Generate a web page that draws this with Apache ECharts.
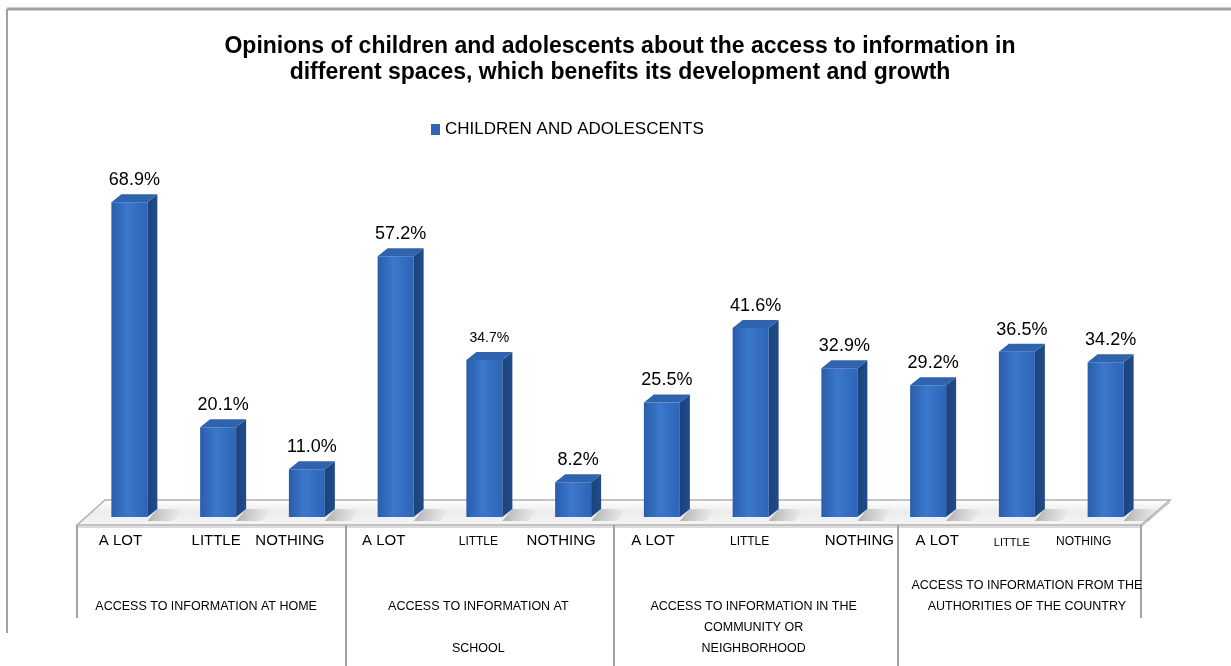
<!DOCTYPE html>
<html>
<head>
<meta charset="utf-8">
<script src="https://cdn.jsdelivr.net/npm/echarts@6/dist/echarts.min.js"></script>
<style>
  html, body { margin: 0; padding: 0; background: #ffffff; }
  #chart { width: 1231px; height: 666px; }
</style>
</head>
<body>
<div id="chart"></div>
<script>
// ---- chart data ----
const titleText = 'Opinions of children and adolescents about the access to information in\ndifferent spaces, which benefits its development and growth';
const seriesName = 'CHILDREN AND ADOLESCENTS';
const responses = ['A LOT', 'LITTLE', 'NOTHING', 'A LOT', 'LITTLE', 'NOTHING',
                   'A LOT', 'LITTLE', 'NOTHING', 'A LOT', 'LITTLE', 'NOTHING'];
const spaces = [
  'ACCESS TO INFORMATION AT HOME',
  'ACCESS TO INFORMATION AT\n\nSCHOOL',
  'ACCESS TO INFORMATION IN THE\nCOMMUNITY OR\nNEIGHBORHOOD',
  'ACCESS TO INFORMATION FROM THE\nAUTHORITIES OF THE COUNTRY'
];
const values = [68.9, 20.1, 11.0, 57.2, 34.7, 8.2, 25.5, 41.6, 32.9, 29.2, 36.5, 34.2];

// ---- look & layout ----
const FONT = "'Liberation Sans', Arial, sans-serif";
const GRID = { left: 76, right: 90, top: 151, bottom: 146 };
const FACE_W = 36;      // front face width of a column
const FACE_SHIFT = 9;   // front face centre offset from band centre
const DEPTH_X = 10;     // 3D depth offset
const DEPTH_Y = 8;

// per-tick label size and horizontal nudge (px)
const responseLabelLook = [
  [15, 0], [15, 7], [15, -8],
  [15, -3], [12, 3], [15, -3],
  [15, 0], [12, 8], [15, 29],
  [15, 18], [11, 4], [12, -13]
];
// per-group label top padding and horizontal nudge
const spaceLabelLook = [[21, -3], [21, 3], [21, 12], [0, 19]];
// value label sizes (one smaller label)
const valueLabelSize = i => (i === 4 ? 14 : 18);

function nudge(top, shift) {
  return [top, shift < 0 ? -2 * shift : 0, 0, shift > 0 ? 2 * shift : 0];
}

const responseItems = responses.map((r, i) => ({
  value: r,
  textStyle: {
    fontSize: responseLabelLook[i][0],
    padding: nudge(15 - responseLabelLook[i][0], responseLabelLook[i][1])
  }
}));
const spaceItems = spaces.map((s, i) => ({
  value: s,
  textStyle: { padding: nudge(spaceLabelLook[i][0], spaceLabelLook[i][1]) }
}));

const frontFill = new echarts.graphic.LinearGradient(0, 0, 1, 0, [
  { offset: 0, color: '#2a5dab' },
  { offset: 0.45, color: '#3b78cd' },
  { offset: 1, color: '#2d64b6' }
]);
const sideFill = new echarts.graphic.LinearGradient(0, 0, 1, 0, [
  { offset: 0, color: '#1b437e' },
  { offset: 1, color: '#204c8a' }
]);
const topFill = '#2f63ae';

function renderColumn(params, api) {
  const i = params.dataIndex;
  const v = api.value(1);
  const top = api.coord([api.value(0), v]);
  const base = api.coord([api.value(0), 0]);
  const x0 = top[0] + FACE_SHIFT - FACE_W / 2;
  const x1 = x0 + FACE_W;
  const yT = top[1];
  const yB = base[1] - 3;
  return {
    type: 'group',
    children: [
      { // floor shadow
        type: 'polygon',
        shape: { points: [[x1, yB + 4], [x1 + DEPTH_X, yB - DEPTH_Y], [x1 + DEPTH_X + 26, yB - DEPTH_Y], [x1 + 26, yB + 4]] },
        style: {
          fill: new echarts.graphic.LinearGradient(0, 0, 1, 0, [
            { offset: 0, color: 'rgba(120,120,120,0.55)' },
            { offset: 1, color: 'rgba(160,160,160,0)' }
          ])
        },
        silent: true
      },
      {
        type: 'rect',
        shape: { x: x0, y: yT, width: FACE_W, height: yB - yT },
        style: { fill: frontFill }
      },
      {
        type: 'polygon',
        shape: { points: [[x1, yT], [x1 + DEPTH_X, yT - DEPTH_Y], [x1 + DEPTH_X, yB - DEPTH_Y], [x1, yB]] },
        style: { fill: sideFill }
      },
      {
        type: 'polygon',
        shape: { points: [[x0, yT], [x0 + DEPTH_X, yT - DEPTH_Y], [x1 + DEPTH_X, yT - DEPTH_Y], [x1, yT]] },
        style: { fill: topFill }
      },
      {
        type: 'text',
        style: {
          text: v.toFixed(1) + '%',
          x: x0 + (FACE_W + DEPTH_X) / 2,
          y: yT - DEPTH_Y - 14,
          align: 'center',
          verticalAlign: 'middle',
          fontSize: valueLabelSize(i),
          fontFamily: FONT,
          fill: '#000000'
        }
      }
    ]
  };
}

// floor slab and the category table lines
const floorFront = 666 - GRID.bottom + 5;
const floorBack = floorFront - 25;
const xL = GRID.left + 1, xR = 1231 - GRID.right;
const lineStyle = { stroke: '#a3a3a3', lineWidth: 2 };
const graphics = [
  { type: 'line', shape: { x1: 7, y1: 9, x2: 1231, y2: 9 }, style: { stroke: '#a0a0a0', lineWidth: 3 } },
  { type: 'line', shape: { x1: 7, y1: 9, x2: 7, y2: 633 }, style: { stroke: '#a0a0a0', lineWidth: 2 } },
  {
    type: 'polygon', z: 0,
    shape: { points: [[xL, floorFront], [xL + 28, floorBack], [xR + 29, floorBack], [xR, floorFront]] },
    style: {
      fill: new echarts.graphic.LinearGradient(0, 0, 0, 1, [
        { offset: 0, color: '#ffffff' },
        { offset: 0.5, color: '#ececec' },
        { offset: 1, color: '#f6f6f6' }
      ]),
      stroke: '#b0b0b0', lineWidth: 1.5
    }
  },
  { type: 'line', shape: { x1: xR, y1: floorFront + 2, x2: xR + 29, y2: floorBack + 2 }, style: { stroke: '#b0b0b0', lineWidth: 1 } },
  { type: 'line', shape: { x1: xL, y1: floorFront + 2, x2: xR, y2: floorFront + 2 }, style: { stroke: '#b8b8b8', lineWidth: 1 } },
  { type: 'line', shape: { x1: xL, y1: floorFront, x2: xL, y2: 618 }, style: lineStyle },
  { type: 'line', shape: { x1: 346, y1: floorFront, x2: 346, y2: 666 }, style: lineStyle },
  { type: 'line', shape: { x1: 614, y1: floorFront, x2: 614, y2: 666 }, style: lineStyle },
  { type: 'line', shape: { x1: 898, y1: floorFront, x2: 898, y2: 666 }, style: lineStyle },
  { type: 'line', shape: { x1: xR, y1: floorFront, x2: xR, y2: 618 }, style: lineStyle }
];

const chart = echarts.init(document.getElementById('chart'), null, { renderer: 'canvas' });
chart.setOption({
  backgroundColor: '#ffffff',
  animation: false,
  title: {
    text: titleText,
    left: 620,
    top: 34,
    padding: 0,
    textAlign: 'center',
    textStyle: { fontFamily: FONT, fontSize: 23, fontWeight: 'bold', lineHeight: 26, color: '#000000' }
  },
  legend: {
    data: [{ name: seriesName, icon: 'rect' }],
    left: 431,
    top: 121,
    padding: 0,
    itemWidth: 9,
    itemHeight: 11,
    itemGap: 7,
    textStyle: { fontFamily: FONT, fontSize: 17, color: '#000000' },
    itemStyle: { color: '#2f66b5' }
  },
  grid: GRID,
  xAxis: [
    {
      type: 'category',
      data: responseItems,
      axisLine: { show: false },
      axisTick: { show: false },
      axisLabel: { interval: 0, margin: 13, fontFamily: FONT, color: '#000000' }
    },
    {
      type: 'category',
      data: spaceItems,
      position: 'bottom',
      axisLine: { show: false },
      axisTick: { show: false },
      axisLabel: { interval: 0, margin: 55, fontFamily: FONT, fontSize: 12.5, lineHeight: 21, color: '#000000' }
    }
  ],
  yAxis: { type: 'value', min: 0, max: 80, show: false },
  series: [{
    name: seriesName,
    type: 'custom',
    xAxisIndex: 0,
    clip: false,
    itemStyle: { color: '#2f66b5' },
    renderItem: renderColumn,
    data: values.map((v, i) => [i, v])
  }],
  graphic: { elements: graphics }
});
</script>
</body>
</html>
